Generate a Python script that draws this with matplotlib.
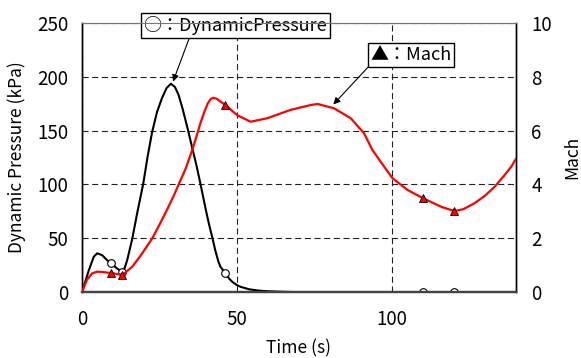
import matplotlib
matplotlib.use("Agg")
import matplotlib.pyplot as plt

plt.rcParams['font.family'] = ['Noto Sans CJK JP', 'DejaVu Sans']

# Dynamic pressure curve (kPa)
dp_time = [0, 1, 2.2, 3.8, 4.9, 6.5, 8.1, 9.4, 11.3, 12.9, 13.8, 14.6, 16.2,
           17.8, 19.8, 21.2, 22.6, 24.2, 25.8, 27.3, 28.7, 30, 31.2, 32.5, 34,
           35.5, 37, 38.2, 40, 41, 42, 43, 44, 44.7, 46.3, 47.5, 48.5, 50,
           51.2, 54, 57, 60, 65, 70, 140]
dp_value = [0, 9, 20, 32.8, 36, 34.4, 29.7, 26.7, 22, 18.9, 22.5, 29.7, 49,
            73, 101, 126, 148, 167, 180, 189.5, 193.5, 190.5, 183, 170, 153,
            135, 117, 101, 76, 63, 51.4, 39, 28.5, 23.5, 17.4, 12.5, 9.6, 6.5,
            4.9, 2.6, 1.4, 0.8, 0.3, 0, 0]

# Mach curve
mach_time = [0, 1.6, 3.2, 4.9, 6.5, 8.6, 10.5, 11.9, 13.5, 16.2, 19.2, 22.7,
             25, 27.4, 29.5, 31.4, 33.5, 35.5, 37, 38.2, 39.5, 40.6, 41.5,
             42.4, 43.5, 44.7, 46.3, 50, 54.4, 59.8, 67.3, 73.8, 76, 81.3,
             86.7, 91, 93.7, 97.5, 100.2, 105.1, 110.2, 115.9, 120.2, 123,
             126.6, 130, 133.1, 136, 138.5, 140]
mach_value = [0, 0.45, 0.69, 0.76, 0.75, 0.72, 0.69, 0.66, 0.68, 0.94, 1.4,
              2.0, 2.5, 3.05, 3.55, 4.05, 4.6, 5.25, 5.8, 6.27, 6.7, 7.01,
              7.17, 7.22, 7.18, 7.08, 6.95, 6.58, 6.33, 6.46, 6.77, 6.95,
              6.99, 6.83, 6.46, 5.9, 5.28, 4.66, 4.23, 3.79, 3.48, 3.17, 3.01,
              3.08, 3.3, 3.58, 3.91, 4.3, 4.66, 4.95]

# marker samples
mk_time = [9.4, 12.9, 46.3, 110.1, 120.1]
dp_marks = [26.7, 18.9, 17.4, 0, 0]
mach_marks = [0.7, 0.63, 6.95, 3.48, 3.01]

fig = plt.figure(figsize=(5.81, 3.58), dpi=100)
ax = fig.add_axes([0.141, 0.184, 0.747, 0.752])
ax2 = ax.twinx()

ax.plot(dp_time, dp_value, color='black', lw=1.5, zorder=3)
ax.plot(mk_time, dp_marks, ls='none', marker='o', ms=5.5, mfc='white',
        mec='black', mew=0.8, zorder=4)
ax2.plot(mach_time, mach_value, color='#ff0000', lw=1.6, zorder=3)
ax2.plot(mk_time, mach_marks, ls='none', marker='^', ms=6, mfc='#ff0000',
         mec='black', mew=0.6, zorder=4)

ax.set_xlim(0, 140)
ax.set_ylim(0, 250)
ax2.set_ylim(0, 10)
ax.set_xticks([0, 50, 100])
ax.set_yticks([0, 50, 100, 150, 200, 250])
ax2.set_yticks([0, 2, 4, 6, 8, 10])

ax.grid(True, color='#222222', lw=0.8, ls=(0, (5.5, 3.2)))
ax.set_axisbelow(True)

for a in (ax, ax2):
    a.tick_params(length=0, labelsize=13.5)
    a.spines['top'].set_color('#777777')
    a.spines['top'].set_linewidth(0.8)
    a.spines['bottom'].set_color('#444444')
    a.spines['bottom'].set_linewidth(1.6)
    a.spines['left'].set_linewidth(1.0)
    a.spines['right'].set_linewidth(1.0)
ax.tick_params(axis='y', pad=10)
ax.tick_params(axis='x', pad=12)
ax2.tick_params(axis='y', pad=11)

ax.set_xlabel('Time (s)', fontsize=12.5, labelpad=7)
ax.set_ylabel('Dynamic Pressure (kPa)', fontsize=12.5, labelpad=8)
ax2.set_ylabel('Mach', fontsize=12.5, labelpad=8)

box = dict(boxstyle='square,pad=0.15', fc='white', ec='black', lw=1)
ax.annotate('○：DynamicPressure', xy=(29.4, 195.5), xytext=(49.5, 247.5),
            ha='center', va='center', fontsize=13, bbox=box,
            annotation_clip=False,
            arrowprops=dict(arrowstyle='-|>', color='black', lw=0.8,
                            mutation_scale=10, relpos=(0.255, 0),
                            shrinkA=0, shrinkB=0))
ax2.annotate('▲：Mach', xy=(81.1, 6.97), xytext=(106.1, 8.81),
             ha='center', va='center', fontsize=13, bbox=box,
             arrowprops=dict(arrowstyle='-|>', color='black', lw=0.8,
                             mutation_scale=10, relpos=(0.01, 0),
                             shrinkA=0, shrinkB=0))

fig.savefig('out.png', dpi=100)
